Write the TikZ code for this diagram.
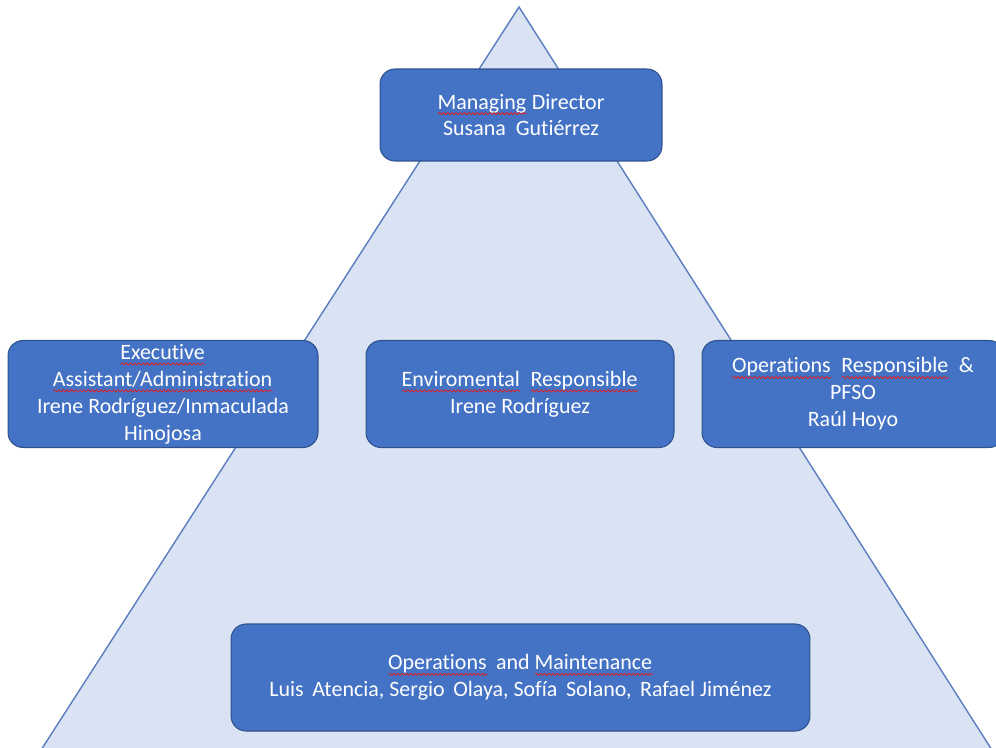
\documentclass[tikz,border=0pt]{standalone}
\usepackage{fontspec}
\setmainfont{Carlito}[Ligatures=NoCommon]
\usepackage{tikz}
\usetikzlibrary{positioning, decorations.pathmorphing}
\definecolor{cBoxBlue}{HTML}{4472C4}
\definecolor{cBoxEdge}{HTML}{2F528F}
\definecolor{cPyramid}{HTML}{DAE3F3}
\definecolor{cPyramidEdge}{HTML}{5B7DC0}
\definecolor{cSpell}{HTML}{E02020}
\newsavebox\spellbox
\newcommand\spellmark[1]{\sbox\spellbox{#1}\leavevmode\rlap{\usebox\spellbox}%
  \tikz[x=1pt, y=1pt, baseline=0pt, sharp corners]\draw[cSpell, line width=0.45pt, decorate, decoration={snake, amplitude=0.6pt, segment length=2.4pt}] (0,-2.6) -- (\the\wd\spellbox,-2.6);}

\begin{document}
\begin{tikzpicture}[x=0.02cm, y=-0.02cm,
    role/.style={rectangle, rounded corners=0.3cm, draw=cBoxEdge, fill=cBoxBlue, line width=0.6pt, text=white, align=center, font=\fontsize{12.5}{15.3}\selectfont, inner sep=2pt},
    pyramid/.style={draw=cPyramidEdge, fill=cPyramid, line width=0.8pt}
]
\useasboundingbox (0,0) rectangle (996,747);
\clip (0,0) rectangle (996,747);

% Pyramid in the background
\coordinate (apex) at (519,7);
\coordinate (baseL) at (34.6,760);
\coordinate (baseR) at (998.3,760);
\draw[pyramid] (apex) -- (baseR) -- (baseL) -- cycle;

% Top
\node[role, minimum width=5.64cm, minimum height=1.84cm] (md) at (521,115) {\spellmark{Managing} Director\\Susana\ \ Gutiérrez};

% Middle row
\node[role, minimum width=6.2cm, minimum height=2.14cm] (exec) at (163,394) {\spellmark{Executive}\\\spellmark{Assistant/Administration}\\Irene Rodríguez/Inmaculada\\Hinojosa};
\node[role, minimum width=6.16cm, minimum height=2.14cm] (env) at (520,394) {\spellmark{Enviromental}\ \ \spellmark{Responsible}\\Irene Rodríguez};
\node[role, minimum width=6.04cm, minimum height=2.14cm] (ops) at (853,394) {\spellmark{Operations}\ \ \spellmark{Responsible}\ \ \&\\PFSO\\Raúl Hoyo};

% Bottom
\node[role, minimum width=11.58cm, minimum height=2.14cm] (om) at (520.5,677.5) {\spellmark{Operations}\ \,and \spellmark{Maintenance}\\Luis\ \,Atencia, Sergio\ \,Olaya, Sofía\ \,Solano,\ \,Rafael Jiménez};

\end{tikzpicture}
\end{document}
